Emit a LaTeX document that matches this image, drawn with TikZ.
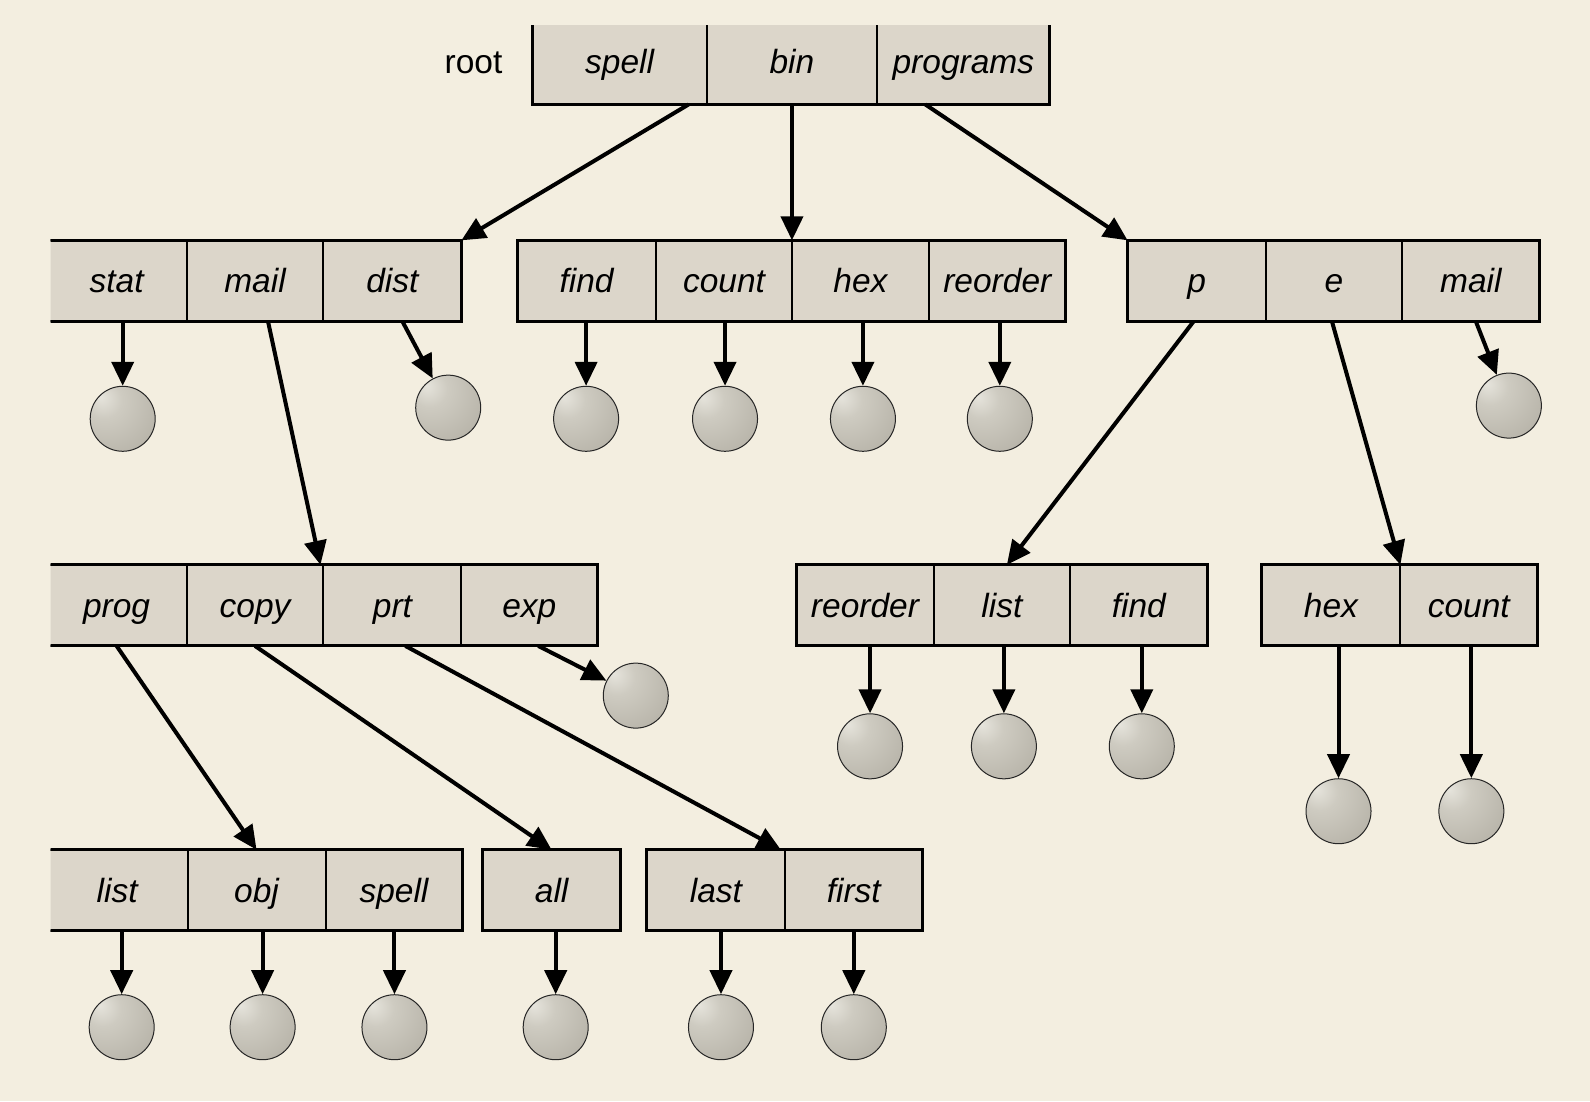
\documentclass[tikz,border=0pt]{standalone}
\usepackage{fontspec}
\setmainfont{Liberation Sans}
\usetikzlibrary{arrows.meta}
\definecolor{bg}{RGB}{243,238,224}
\definecolor{cellfill}{RGB}{220,214,202}
\definecolor{ballhi}{RGB}{230,228,220}
\definecolor{ballmid}{RGB}{206,203,193}
\definecolor{balldark}{RGB}{176,172,161}
\definecolor{balledge}{RGB}{150,146,135}
\pgfdeclareradialshading{myball}{\pgfpoint{-17bp}{17bp}}{color(0bp)=(ballhi); color(14bp)=(ballmid); color(50bp)=(balldark); color(68bp)=(balledge); color(100bp)=(balledge)}
\newcommand{\mkcell}[6]{\node[cell, minimum width={(#3-#2)*1.01403pt}, minimum height={(#5-#4)*1.01403pt}] (#1) at ({(#2+#3)/2},{(#4+#5)/2}) {#6};}
\tikzset{
  cell/.style={rectangle, fill=cellfill, draw=black, line width=2pt, inner sep=0pt, outer sep=0pt,
    text height=23.5pt, text depth=0pt,
    font=\fontsize{33.5}{40}\selectfont\itshape},
  outline/.style={draw=black, line width=3pt},
  ball/.style={circle, minimum size=65pt, inner sep=0pt, shading=myball, draw=black!85, line width=1pt},
  arr/.style={line width=4pt, -{Triangle[length=24pt,width=22pt]}},
}
\begin{document}
\begin{tikzpicture}[x=1.01403pt,y=-1.01403pt]
\fill[bg] (0,0) rectangle (1568,1086);
\useasboundingbox (0,0) rectangle (1568,1086);
\begin{scope}
\clip (50,25) rectangle (1521,1046);
% root
\node[font=\fontsize{33.5}{40}\selectfont, text height=23.5pt, text depth=0pt, inner sep=0pt] (root) at (467,60.5) {root};
\mkcell{rspell}{525}{697}{18}{103}{spell}
\mkcell{rbin}{697}{865}{18}{103}{bin}
\mkcell{rprog}{865}{1035}{18}{103}{programs}
\draw[outline] (rspell.north west) rectangle (rprog.south east);
% level 2
\mkcell{stat}{46}{184}{237}{317}{stat}
\mkcell{mail}{184}{319}{237}{317}{mail}
\mkcell{dist}{319}{455}{237}{317}{dist}
\draw[outline] (stat.north west) rectangle (dist.south east);
\mkcell{find}{510}{647}{237}{317}{find}
\mkcell{count}{647}{781}{237}{317}{count}
\mkcell{hex}{781}{916}{237}{317}{hex}
\mkcell{reorder}{916}{1051}{237}{317}{reorder}
\draw[outline] (find.north west) rectangle (reorder.south east);
\mkcell{p}{1112}{1248}{237}{317}{p}
\mkcell{e}{1248}{1383}{237}{317}{e}
\mkcell{mailb}{1383}{1518}{237}{317}{mail}
\draw[outline] (p.north west) rectangle (mailb.south east);
% level 3
\mkcell{prog}{46}{184}{557}{637}{prog}
\mkcell{copy}{184}{319}{557}{637}{copy}
\mkcell{prt}{319}{455}{557}{637}{prt}
\mkcell{exp}{455}{589}{557}{637}{exp}
\draw[outline] (prog.north west) rectangle (exp.south east);
\mkcell{reorderb}{785}{921}{557}{637}{reorder}
\mkcell{listb}{921}{1055}{557}{637}{list}
\mkcell{findb}{1055}{1191}{557}{637}{find}
\draw[outline] (reorderb.north west) rectangle (findb.south east);
\mkcell{hexb}{1244}{1381}{557}{637}{hex}
\mkcell{countb}{1381}{1516}{557}{637}{count}
\draw[outline] (hexb.north west) rectangle (countb.south east);
% level 4
\mkcell{list}{46}{185}{838}{918}{list}
\mkcell{obj}{185}{321}{838}{918}{obj}
\mkcell{spell}{321}{456}{838}{918}{spell}
\draw[outline] (list.north west) rectangle (spell.south east);
\mkcell{all}{476}{612}{838}{918}{all}
\draw[outline] (all.north west) rectangle (all.south east);
\mkcell{last}{638}{774}{838}{918}{last}
\mkcell{first}{774}{910}{838}{918}{first}
\draw[outline] (last.north west) rectangle (first.south east);
% balls
\node[ball] (b-stat) at (121,413) {};
\node[ball] (b-dist) at (442,402) {};
\node[ball] (b-find) at (578,413) {};
\node[ball] (b-count) at (715,413) {};
\node[ball] (b-hex) at (851,413) {};
\node[ball] (b-reorder) at (986,413) {};
\node[ball] (b-mailb) at (1488,400) {};
\node[ball] (b-exp) at (627,686) {};
\node[ball] (b-reorderb) at (858,736) {};
\node[ball] (b-listb) at (990,736) {};
\node[ball] (b-findb) at (1126,736) {};
\node[ball] (b-hexb) at (1320,800) {};
\node[ball] (b-countb) at (1451,800) {};
\node[ball] (b-list) at (120,1013) {};
\node[ball] (b-obj) at (259,1013) {};
\node[ball] (b-spell) at (389,1013) {};
\node[ball] (b-all) at (548,1013) {};
\node[ball] (b-last) at (711,1013) {};
\node[ball] (b-first) at (842,1013) {};
% arrows to balls
\foreach \n in {stat,find,count,hex,reorder,reorderb,listb,findb,hexb,countb,list,obj,spell,all,last,first}
  \draw[arr] (\n.south -| b-\n) -- (b-\n.north);
\draw[arr] ([xshift=10pt]dist.south) -- (b-dist);
\draw[arr] ([xshift=5pt]mailb.south) -- (b-mailb);
\draw[arr] ([xshift=9pt]exp.south) -- (b-exp);
% arrows between directories
\draw[arr] ([xshift=69pt]rspell.south) -- (dist.north east);
\draw[arr] (rbin.south) -- (count.north east);
\draw[arr] ([xshift=-38pt]rprog.south) -- (p.north west);
\draw[arr] ([xshift=13pt]mail.south) -- ([xshift=-3pt]prt.north west);
\draw[arr] ([xshift=-3pt]p.south) -- ([xshift=5pt]listb.north);
\draw[arr] ([xshift=-2pt]e.south) -- (countb.north west);
\draw[arr] (prog.south) -- (obj.north);
\draw[arr] (copy.south) -- (all.north);
\draw[arr] ([xshift=13pt]prt.south) -- ([xshift=-4pt]first.north west);
\end{scope}
\end{tikzpicture}
\end{document}
